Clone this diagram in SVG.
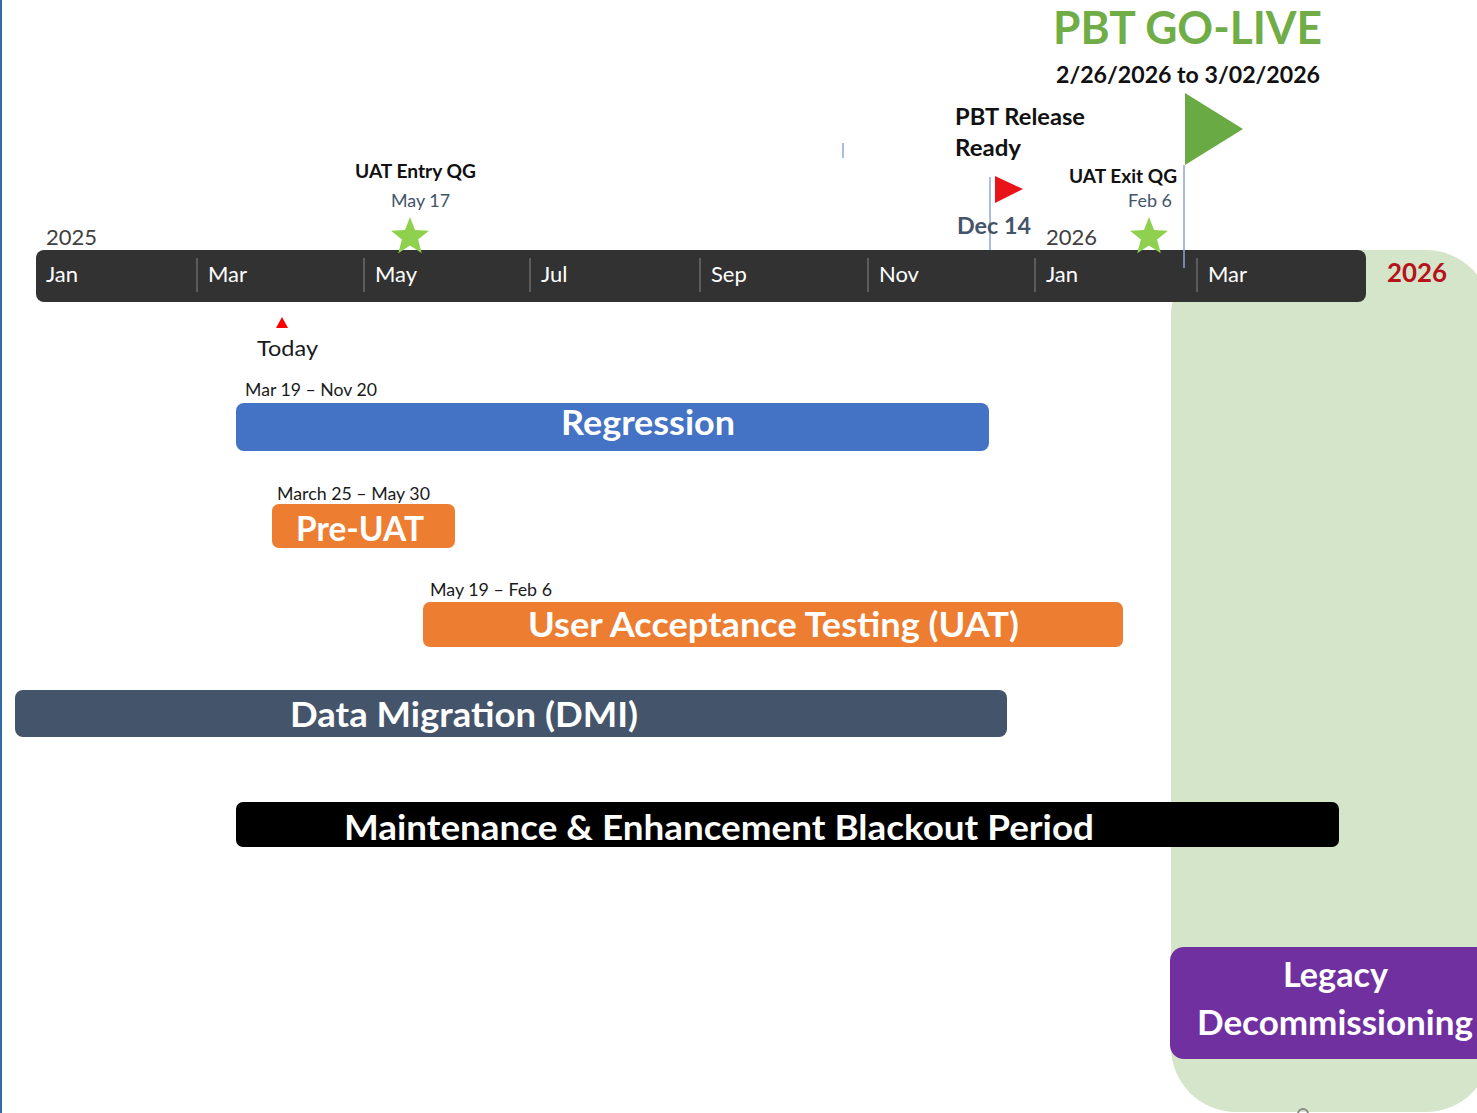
<svg xmlns="http://www.w3.org/2000/svg" width="1477" height="1113" viewBox="0 0 1477 1113">
  <defs>
    <style>
      text { font-family: Lato, "Open Sans", "Liberation Sans", sans-serif; }
      .month { fill: #ffffff; font-size: 22px; }
      .year { fill: #404040; font-size: 22px; }
      .tick { stroke: #6b6b6b; stroke-width: 1.5; }
      .pole { stroke: #8ea9d0; stroke-width: 1.5; }
      .ms-title { fill: #111111; font-size: 19px; font-weight: bold; }
      .ms-date { fill: #44546a; font-size: 18px; }
      .range { fill: #1a1a1a; font-size: 17px; }
      .bar-label { fill: #ffffff; font-size: 34px; font-weight: bold; }
      .star { fill: #8fd14f; }
    </style>
    <path id="star" d="M0,-20 L5,-6.9 L19,-6.2 L8.1,2.6 L11.8,16.2 L0,8.5 L-11.8,16.2 L-8.1,2.6 L-19,-6.2 L-5,-6.9 Z"/>
  </defs>

  <rect x="0" y="0" width="1477" height="1113" fill="#ffffff"/>
  <!-- page edge -->
  <rect x="0" y="0" width="2" height="1113" fill="#2e6da4"/>

  <!-- 2026 go-live zone -->
  <g id="golive-zone">
    <rect x="1171" y="250" width="320" height="862" rx="65" ry="65" fill="#d5e5c9"/>
    <circle cx="1303" cy="1114" r="5" fill="none" stroke="#8a8a8a" stroke-width="2"/>
  </g>

  <!-- timeline axis -->
  <g id="timeline">
    <rect x="36" y="250" width="1330" height="52" rx="8" ry="8" fill="#323232"/>
    <line class="tick" x1="197" y1="258" x2="197" y2="292"/>
    <line class="tick" x1="364" y1="258" x2="364" y2="292"/>
    <line class="tick" x1="530" y1="258" x2="530" y2="292"/>
    <line class="tick" x1="700" y1="258" x2="700" y2="292"/>
    <line class="tick" x1="868" y1="258" x2="868" y2="292"/>
    <line class="tick" x1="1035" y1="258" x2="1035" y2="292"/>
    <line class="tick" x1="1197" y1="258" x2="1197" y2="292"/>
    <text class="month" x="46" y="282">Jan</text>
    <text class="month" x="208" y="282">Mar</text>
    <text class="month" x="375" y="282">May</text>
    <text class="month" x="541" y="282">Jul</text>
    <text class="month" x="711" y="282">Sep</text>
    <text class="month" x="879" y="282">Nov</text>
    <text class="month" x="1046" y="282">Jan</text>
    <text class="month" x="1208" y="282">Mar</text>
    <text class="year" x="46" y="245">2025</text>
    <text class="year" x="1046" y="245">2026</text>
    <text x="1387" y="282" fill="#b5121b" font-size="26" font-weight="bold" textLength="60" lengthAdjust="spacingAndGlyphs">2026</text>
  </g>

  <!-- milestone poles -->
  <g id="connectors">
    <line class="pole" x1="843" y1="143" x2="843" y2="158"/>
    <line class="pole" x1="990" y1="177" x2="990" y2="250"/>
    <line class="pole" x1="1184" y1="165" x2="1184" y2="268"/>
  </g>

  <g id="uat-entry-qg">
    <text class="ms-title" x="355" y="178" textLength="121" lengthAdjust="spacingAndGlyphs">UAT Entry QG</text>
    <text class="ms-date" x="391" y="207" textLength="59" lengthAdjust="spacingAndGlyphs">May 17</text>
    <use href="#star" class="star" x="410" y="237"/>
  </g>

  <g id="pbt-release-ready">
    <text x="955" y="125" fill="#111111" font-size="22" font-weight="bold" textLength="130" lengthAdjust="spacingAndGlyphs">PBT Release</text>
    <text x="955" y="156" fill="#111111" font-size="22" font-weight="bold" textLength="66" lengthAdjust="spacingAndGlyphs">Ready</text>
    <polygon points="995,176 1023,189 995,203" fill="#e8141a"/>
    <text x="957" y="234" fill="#44546a" font-size="22" font-weight="bold" textLength="74" lengthAdjust="spacingAndGlyphs">Dec 14</text>
  </g>

  <g id="uat-exit-qg">
    <text class="ms-title" x="1069" y="183" textLength="108" lengthAdjust="spacingAndGlyphs">UAT Exit QG</text>
    <text class="ms-date" x="1128" y="207" textLength="44" lengthAdjust="spacingAndGlyphs">Feb 6</text>
    <use href="#star" class="star" x="1149" y="237"/>
  </g>

  <g id="pbt-go-live">
    <text x="1053" y="44" fill="#70ad47" font-size="46" font-weight="bold" textLength="269" lengthAdjust="spacingAndGlyphs">PBT GO-LIVE</text>
    <text x="1056" y="83" fill="#111111" font-size="22" font-weight="bold" textLength="264" lengthAdjust="spacingAndGlyphs">2/26/2026 to 3/02/2026</text>
    <polygon points="1185,93 1243,129 1185,165" fill="#6aaa45"/>
  </g>

  <g id="today">
    <polygon points="282,317 288,328 276,328" fill="#ff0000"/>
    <text x="257" y="356" fill="#1a1a1a" font-size="22" textLength="61" lengthAdjust="spacingAndGlyphs">Today</text>
  </g>

  <g id="regression">
    <text class="range" x="245" y="396" textLength="132" lengthAdjust="spacingAndGlyphs">Mar 19 – Nov 20</text>
    <rect x="236" y="403" width="753" height="48" rx="8" ry="8" fill="#4472c4"/>
    <text class="bar-label" x="561" y="435" textLength="174" lengthAdjust="spacingAndGlyphs">Regression</text>
  </g>

  <g id="pre-uat">
    <text class="range" x="277" y="500" textLength="153" lengthAdjust="spacingAndGlyphs">March 25 – May 30</text>
    <rect x="272" y="504" width="183" height="44" rx="7" ry="7" fill="#ed7d31"/>
    <text class="bar-label" x="296" y="541" font-size="36" textLength="128" lengthAdjust="spacingAndGlyphs">Pre-UAT</text>
  </g>

  <g id="uat">
    <text class="range" x="430" y="596" textLength="122" lengthAdjust="spacingAndGlyphs">May 19 – Feb 6</text>
    <rect x="423" y="602" width="700" height="45" rx="7" ry="7" fill="#ed7d31"/>
    <text class="bar-label" x="528" y="637" textLength="491" lengthAdjust="spacingAndGlyphs">User Acceptance Testing (UAT)</text>
  </g>

  <g id="data-migration">
    <rect x="15" y="690" width="992" height="47" rx="8" ry="8" fill="#44546a"/>
    <text class="bar-label" x="290" y="727" textLength="348" lengthAdjust="spacingAndGlyphs">Data Migration (DMI)</text>
  </g>

  <g id="blackout">
    <rect x="236" y="802" width="1103" height="45" rx="7" ry="7" fill="#000000"/>
    <text class="bar-label" x="344" y="840" textLength="750" lengthAdjust="spacingAndGlyphs">Maintenance &amp; Enhancement Blackout Period</text>
  </g>

  <g id="legacy-decommissioning">
    <rect x="1170" y="947" width="330" height="112" rx="14" ry="14" fill="#7030a0"/>
    <text class="bar-label" x="1283" y="987" textLength="105" lengthAdjust="spacingAndGlyphs">Legacy</text>
    <text class="bar-label" x="1197" y="1035" textLength="276" lengthAdjust="spacingAndGlyphs">Decommissioning</text>
  </g>
</svg>
